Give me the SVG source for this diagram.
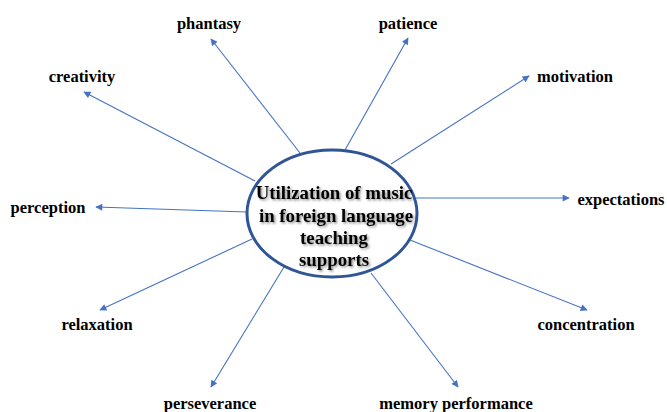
<svg xmlns="http://www.w3.org/2000/svg" width="667" height="412" viewBox="0 0 667 412">
<style>
.lbl{font-family:"Liberation Serif","Times New Roman",serif;font-weight:bold;font-size:16.5px;fill:#000;text-anchor:middle}
.ctr{font-family:"Liberation Serif","Times New Roman",serif;font-weight:bold;font-size:18.8px;fill:#000;text-anchor:middle}
.conn line{stroke:#4472C4;stroke-width:1.1;marker-end:url(#ah)}
</style>
<defs>
<marker id="ah" viewBox="0 0 10 10" refX="9" refY="5" markerWidth="8" markerHeight="7" markerUnits="userSpaceOnUse" orient="auto">
<path d="M0,0 L10,5 L0,10 z" fill="#4472C4"/>
</marker>
<filter id="sh" x="-10%" y="-10%" width="120%" height="130%">
<feDropShadow dx="1.5" dy="1.5" stdDeviation="1" flood-color="#000" flood-opacity="0.45"/>
</filter>
</defs>
<rect width="667" height="412" fill="#fff"/>
<g id="connectors" class="conn">
<line x1="300" y1="153" x2="211" y2="39"/>
<line x1="255" y1="181" x2="84" y2="92"/>
<line x1="345" y1="150" x2="408" y2="38"/>
<line x1="391" y1="164" x2="529" y2="76"/>
<line x1="247" y1="212" x2="96" y2="207"/>
<line x1="416" y1="198" x2="569" y2="198"/>
<line x1="252" y1="239" x2="100" y2="310"/>
<line x1="410" y1="240" x2="587" y2="310"/>
<line x1="284" y1="267" x2="211" y2="387"/>
<line x1="371" y1="273" x2="458" y2="387"/>
</g>
<g id="center">
<ellipse cx="332" cy="213.5" rx="85" ry="63.5" fill="#fff" stroke="#2F5597" stroke-width="3"/>
<g filter="url(#sh)">
<text class="ctr" x="334" y="199">Utilization of music</text>
<text class="ctr" x="336" y="222">in foreign language</text>
<text class="ctr" x="334" y="244">teaching</text>
<text class="ctr" x="334" y="266">supports</text>
</g>
</g>
<g id="n-phantasy"><text class="lbl" x="209" y="29">phantasy</text></g>
<g id="n-creativity"><text class="lbl" x="82" y="82">creativity</text></g>
<g id="n-patience"><text class="lbl" x="408" y="29">patience</text></g>
<g id="n-motivation"><text class="lbl" x="575" y="82">motivation</text></g>
<g id="n-perception"><text class="lbl" x="48" y="213">perception</text></g>
<g id="n-expectations"><text class="lbl" x="621" y="205">expectations</text></g>
<g id="n-relaxation"><text class="lbl" x="97" y="330">relaxation</text></g>
<g id="n-concentration"><text class="lbl" x="586" y="330">concentration</text></g>
<g id="n-perseverance"><text class="lbl" x="210" y="409">perseverance</text></g>
<g id="n-memory"><text class="lbl" x="456" y="409">memory performance</text></g>
</svg>
